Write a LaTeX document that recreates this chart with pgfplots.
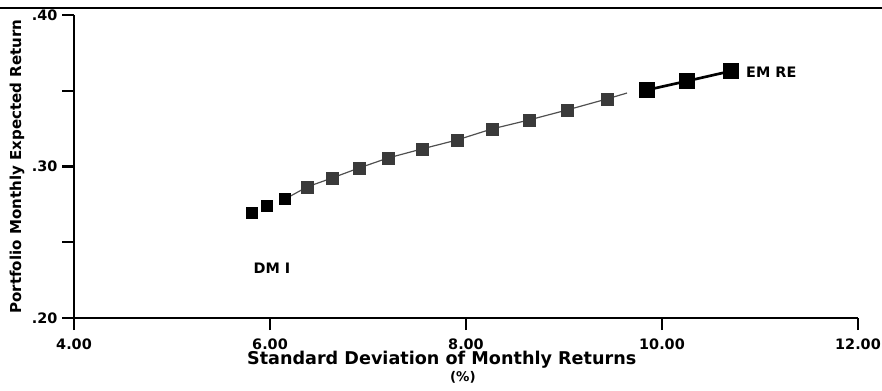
\documentclass[border=0pt]{standalone}
\usepackage{pgfplots}
\pgfplotsset{compat=1.18}
\usepackage{fontspec}
\setmainfont{DejaVu Sans}
\definecolor{gsq}{HTML}{3A3A3A}
\definecolor{gln}{HTML}{505050}
\begin{document}
\begin{tikzpicture}
\begin{axis}[
  at={(55.5pt,54pt)}, anchor=south west,
  scale only axis, width=588pt, height=227.25pt,
  xmin=4, xmax=12, ymin=0.2, ymax=0.4,
  axis lines=left, axis line style={line width=1.6pt, -},
  xtick={4,6,8,10,12},
  xticklabels={4.00,6.00,8.00,10.00,12.00},
  ytick={0.2,0.25,0.3,0.35,0.4},
  yticklabels={.20,,.30,,.40},
  tick style={line width=1.6pt, black},
  major tick length=9pt,
  tick align=outside,
  x tick label style={font=\bfseries\fontsize{10.8}{12}\selectfont, yshift=-3pt},
  y tick label style={font=\bfseries\fontsize{10.8}{12}\selectfont},
  /pgf/number format/assume math mode=true,
  xlabel={Standard Deviation of Monthly Returns},
  xlabel style={at={(axis description cs:0.469,-0.110)}, anchor=north, inner sep=0pt,
    font=\bfseries\fontsize{13.2}{14}\selectfont},
  ylabel={Portfolio Monthly Expected Return},
  ylabel style={at={(axis description cs:-0.0727,0.5)}, anchor=center, rotate=0,
    font=\bfseries\fontsize{11.3}{13}\selectfont},
  clip=false,
]
% thin gray frontier line
\addplot[gln, line width=0.9pt, no marks] coordinates {
  (6.153,0.2785) (6.378,0.2865) (6.633,0.2924) (6.908,0.2990) (7.204,0.3056)
  (7.551,0.3116) (7.908,0.3175) (8.265,0.3248) (8.643,0.3307) (9.031,0.3373)
  (9.439,0.3446) (9.643,0.3485)
};
% gray squares
\addplot[only marks, mark=square*, mark size=4.6pt, mark options={fill=gsq, draw=gsq}] coordinates {
  (6.378,0.2865) (6.633,0.2924) (6.908,0.2990) (7.204,0.3056)
  (7.551,0.3116) (7.908,0.3175) (8.265,0.3248) (8.643,0.3307) (9.031,0.3373)
  (9.439,0.3446)
};
% black squares near DM I
\addplot[only marks, mark=square*, mark size=4.2pt, mark options={fill=black, draw=black}] coordinates {
  (5.816,0.2693) (5.969,0.2739) (6.153,0.2785)
};
% black squares near EM RE
\addplot[black, line width=2pt, mark=square*, mark size=4.8pt, mark options={fill=black, draw=black}] coordinates {
  (9.847,0.3505) (10.255,0.3564) (10.704,0.3630)
};
\node[font=\bfseries\fontsize{10.8}{12}\selectfont, anchor=center] at (axis cs:6.02,0.233) {DM I};
\node[font=\bfseries\fontsize{10.8}{12}\selectfont, anchor=west, inner sep=0pt] at (axis cs:10.857,0.3624) {EM RE};
\node[font=\bfseries\fontsize{10}{12}\selectfont, anchor=center, inner sep=0pt] at (axis description cs:0.496,-0.196) {(\%)};
\end{axis}
\draw[line width=1.5pt] (0,286.5pt) -- (661.5pt,286.5pt);
\pgfresetboundingbox
\path[use as bounding box] (0,0) rectangle (661.5pt,292.5pt);
\end{tikzpicture}
\end{document}
